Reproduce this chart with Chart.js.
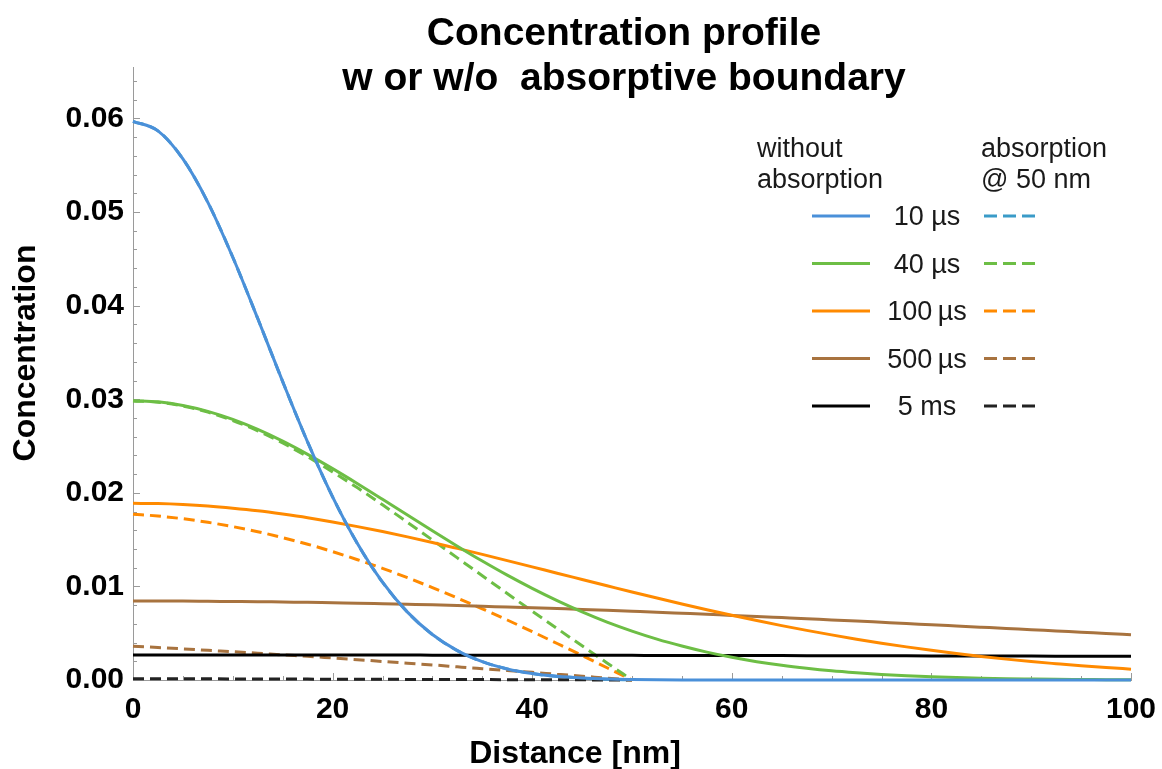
<!DOCTYPE html>
<html>
<head>
<meta charset="utf-8">
<script src="https://cdn.jsdelivr.net/npm/chart.js@4.4.1/dist/chart.umd.min.js"></script>
<style>
  body { margin: 0; background: #fff; }
  #wrap { width: 1162px; height: 769px; position: relative; }
</style>
</head>
<body>
<div id="wrap"><canvas id="profileChart"></canvas></div>
<script>
"use strict"

// distance grid [nm]
var distance = [0, 2.5, 5, 7.5, 10, 12.5, 15, 17.5, 20, 22.5, 25, 27.5, 30, 32.5, 35, 37.5, 40, 42.5, 45, 47.5, 50,
  52.5, 55, 57.5, 60, 62.5, 65, 67.5, 70, 72.5, 75, 77.5, 80, 82.5, 85, 87.5, 90, 92.5, 95, 97.5, 100];

// without absorption
var free10 = [0.0597, 0.05867, 0.05568, 0.05104, 0.04517, 0.03862, 0.03188, 0.02542, 0.01957, 0.01455, 0.01045, 0.00725, 0.00486, 0.00314, 0.00196, 0.00118, 0.00069, 0.00039, 0.00021, 0.00011, 0.00006,
  0.00003, 0.00001, 0, 0, 0, 0, 0, 0, 0, 0, 0, 0, 0, 0, 0, 0, 0, 0, 0, 0];
var free40 = [0.02985, 0.02972, 0.02933, 0.02870, 0.02784, 0.02677, 0.02552, 0.02411, 0.02259, 0.02098, 0.01931, 0.01762, 0.01594, 0.01430, 0.01271, 0.01120, 0.00979, 0.00848, 0.00728, 0.00619, 0.00523,
  0.00437, 0.00363, 0.00298, 0.00243, 0.00196, 0.00157, 0.00125, 0.00098, 0.00077, 0.00059, 0.00045, 0.00035, 0.00026, 0.00019, 0.00014, 0.00011, 0.00008, 0.00006, 0.00004, 0.00003];
var free100 = [0.01888, 0.01885, 0.01875, 0.01859, 0.01836, 0.01808, 0.01773, 0.01734, 0.01689, 0.01639, 0.01586, 0.01529, 0.01469, 0.01406, 0.01342, 0.01276, 0.01209, 0.01141, 0.01074, 0.01007, 0.00940,
  0.00876, 0.00812, 0.00751, 0.00692, 0.00635, 0.00581, 0.00530, 0.00482, 0.00436, 0.00393, 0.00354, 0.00317, 0.00283, 0.00252, 0.00223, 0.00197, 0.00174, 0.00152, 0.00133, 0.00116];
var free500 = [0.00844, 0.00844, 0.00843, 0.00841, 0.00839, 0.00837, 0.00833, 0.00830, 0.00825, 0.00821, 0.00815, 0.00809, 0.00803, 0.00796, 0.00788, 0.00780, 0.00772, 0.00763, 0.00754, 0.00744, 0.00734,
  0.00724, 0.00713, 0.00702, 0.00690, 0.00679, 0.00667, 0.00655, 0.00642, 0.00630, 0.00617, 0.00604, 0.00590, 0.00577, 0.00564, 0.00551, 0.00537, 0.00524, 0.00510, 0.00497, 0.00483];
var free5ms = [0.00267, 0.00267, 0.00267, 0.00267, 0.002669, 0.002668, 0.002667, 0.002665, 0.002664, 0.002662, 0.002661, 0.002659, 0.002657, 0.002654, 0.002652, 0.002649, 0.002646, 0.002643, 0.00264, 0.002637, 0.002633,
  0.002629, 0.002625, 0.002621, 0.002617, 0.002612, 0.002608, 0.002603, 0.002598, 0.002593, 0.002588, 0.002582, 0.002576, 0.002571, 0.002565, 0.002558, 0.002552, 0.002546, 0.002539, 0.002532, 0.002525];

// absorption @ 50 nm (0 .. 50 nm)
var abs10 = [0.0597, 0.05867, 0.05568, 0.05104, 0.04517, 0.03862, 0.03188, 0.02542, 0.01957, 0.01455, 0.01045, 0.00725, 0.00486, 0.00314, 0.00196, 0.00118, 0.00069, 0.00038, 0.0002, 0.00008, 0];
var abs40 = [0.02982, 0.02968, 0.02927, 0.02862, 0.02773, 0.02663, 0.02533, 0.02385, 0.02224, 0.02053, 0.01872, 0.01685, 0.01496, 0.01305, 0.01114, 0.00924, 0.00736, 0.0055, 0.00365, 0.00182, 0];
var abs100 = [0.01772, 0.01752, 0.01723, 0.01685, 0.01639, 0.01585, 0.01521, 0.01451, 0.01372, 0.01285, 0.01193, 0.01093, 0.00987, 0.00876, 0.00761, 0.00641, 0.00517, 0.0039, 0.00262, 0.00131, 0];
var abs500 = [0.00361, 0.00347, 0.00333, 0.00317, 0.00302, 0.00286, 0.00269, 0.00253, 0.00235, 0.00217, 0.00198, 0.00179, 0.00161, 0.00141, 0.00121, 0.00101, 0.00082, 0.00061, 0.00041, 0.0002, 0];
var abs5ms = [0.000145, 0.000138, 0.000131, 0.000124, 0.000117, 0.00011, 0.000102, 0.000094, 0.000088, 0.00008, 0.000073, 0.000066, 0.000059, 0.000051, 0.000044, 0.000037, 0.000029, 0.000022, 0.000015, 0.000008, 0];

var timeLabels = ["10 µs", "40 µs", "100\u2009µs", "500\u2009µs", "5 ms"];
var yTicks = [0, 0.01, 0.02, 0.03, 0.04, 0.05, 0.06];

var solidColors = ["#4a90d9", "#6dbe45", "#ff8a00", "#a8733f", "#000000"];
var dashColors = ["#3a9bc8", "#6dbe45", "#ff8a00", "#a8733f", "#222222"];
var FONT = "'Liberation Sans', Arial, sans-serif";

var freeSeries = [free10, free40, free100, free500, free5ms];
var absSeries = [abs10, abs40, abs100, abs500, abs5ms];

var datasets = [];
freeSeries.forEach(function(vals, i) {
  datasets.push({
    label: timeLabels[i] + " without absorption",
    data: vals.map(function(v, k) { return {x: distance[k], y: v}; }),
    borderColor: solidColors[i],
    borderWidth: 3,
    pointRadius: 0,
    cubicInterpolationMode: 'monotone',
    clip: 8,
    order: 1
  });
});
absSeries.forEach(function(vals, i) {
  datasets.push({
    label: timeLabels[i] + " absorption @ 50 nm",
    data: vals.map(function(v, k) { return {x: distance[k], y: v}; }),
    borderColor: dashColors[i],
    borderWidth: 3,
    borderDash: [11, 6],
    pointRadius: 0,
    cubicInterpolationMode: 'monotone',
    clip: 8,
    order: i === 0 ? 3 : 2
  });
});

// inward ticks, titles and the two-column legend
var extras = {
  id: 'extras',
  beforeDatasetsDraw: function(chart) {
    var ctx = chart.ctx, x = chart.scales.x, y = chart.scales.y;
    ctx.save();
    ctx.strokeStyle = '#9a9a9a';
    ctx.lineWidth = 1;
    ctx.beginPath();
    for (var v = 0; v <= 100; v += 5) {
      var px = Math.round(x.getPixelForValue(v)) + 0.5;
      var len = v % 20 === 0 ? 7 : 4;
      ctx.moveTo(px, y.bottom);
      ctx.lineTo(px, y.bottom - len);
    }
    for (var i = 0; i <= 32; i++) {
      var py = Math.round(y.getPixelForValue(i * 0.002)) + 0.5;
      var l = i % 5 === 0 ? 7 : 4;
      ctx.moveTo(x.left, py);
      ctx.lineTo(x.left + l, py);
    }
    ctx.stroke();
    ctx.restore();
  },
  afterDraw: function(chart) {
    var ctx = chart.ctx;
    ctx.save();
    ctx.fillStyle = '#000';
    ctx.textAlign = 'center';
    ctx.textBaseline = 'alphabetic';
    ctx.font = 'bold 39px ' + FONT;
    ctx.fillText('Concentration profile', 624, 45);
    ctx.fillText('w or w/o  absorptive boundary', 624, 90);

    ctx.font = 'bold 32px ' + FONT;
    ctx.fillText('Distance [nm]', 575, 763);
    ctx.save();
    ctx.translate(35, 353);
    ctx.rotate(-Math.PI / 2);
    ctx.fillText('Concentration', 0, 0);
    ctx.restore();

    // legend
    ctx.fillStyle = '#1a1a1a';
    ctx.font = '27px ' + FONT;
    ctx.textAlign = 'left';
    ctx.fillText('without', 757, 157);
    ctx.fillText('absorption', 757, 188);
    ctx.fillText('absorption', 981, 157);
    ctx.fillText('@ 50 nm', 981, 188);
    var rows = [216, 263.5, 311, 358.5, 406];
    ctx.lineWidth = 3;
    for (var r = 0; r < timeLabels.length; r++) {
      var ry = rows[r];
      ctx.setLineDash([]);
      ctx.strokeStyle = solidColors[r];
      ctx.beginPath();
      ctx.moveTo(812, ry);
      ctx.lineTo(870, ry);
      ctx.stroke();
      ctx.setLineDash([13, 6]);
      ctx.strokeStyle = dashColors[r];
      ctx.beginPath();
      ctx.moveTo(984, ry);
      ctx.lineTo(1035, ry);
      ctx.stroke();
      ctx.fillStyle = '#1a1a1a';
      ctx.textAlign = 'center';
      ctx.fillText(timeLabels[r], 927, ry + 9);
    }
    ctx.restore();
  }
};

var ctxP = document.getElementById("profileChart").getContext('2d');
var profileChart = new Chart(ctxP, {
  type: 'line',
  data: { datasets: datasets },
  options: {
    responsive: true,
    maintainAspectRatio: false,
    animation: false,
    layout: { padding: { top: 67, right: 31, left: 0, bottom: 0 } },
    plugins: {
      legend: { display: false },
      title: { display: false },
      tooltip: { enabled: false }
    },
    scales: {
      x: {
        type: 'linear',
        min: 0,
        max: 100,
        grid: { display: false, drawTicks: false },
        border: { display: true, color: '#9a9a9a', width: 1 },
        ticks: {
          stepSize: 20,
          padding: 12,
          color: '#000',
          font: { family: FONT, size: 30, weight: 'bold' }
        },
        afterFit: function(s) {
          s.height = 89;
          s.paddingLeft = 0;
          s.paddingRight = 0;
        }
      },
      y: {
        type: 'linear',
        min: 0,
        max: 0.0655,
        grid: { display: false, drawTicks: false },
        border: { display: true, color: '#9a9a9a', width: 1 },
        afterBuildTicks: function(s) { s.ticks = yTicks.map(function(v) { return {value: v}; }); },
        ticks: {
          padding: 9,
          color: '#000',
          font: { family: FONT, size: 30, weight: 'bold' },
          callback: function(v) { return Number(v).toFixed(2); }
        },
        afterFit: function(s) { s.width = 133; }
      }
    }
  },
  plugins: [extras]
});
</script>
</body>
</html>
